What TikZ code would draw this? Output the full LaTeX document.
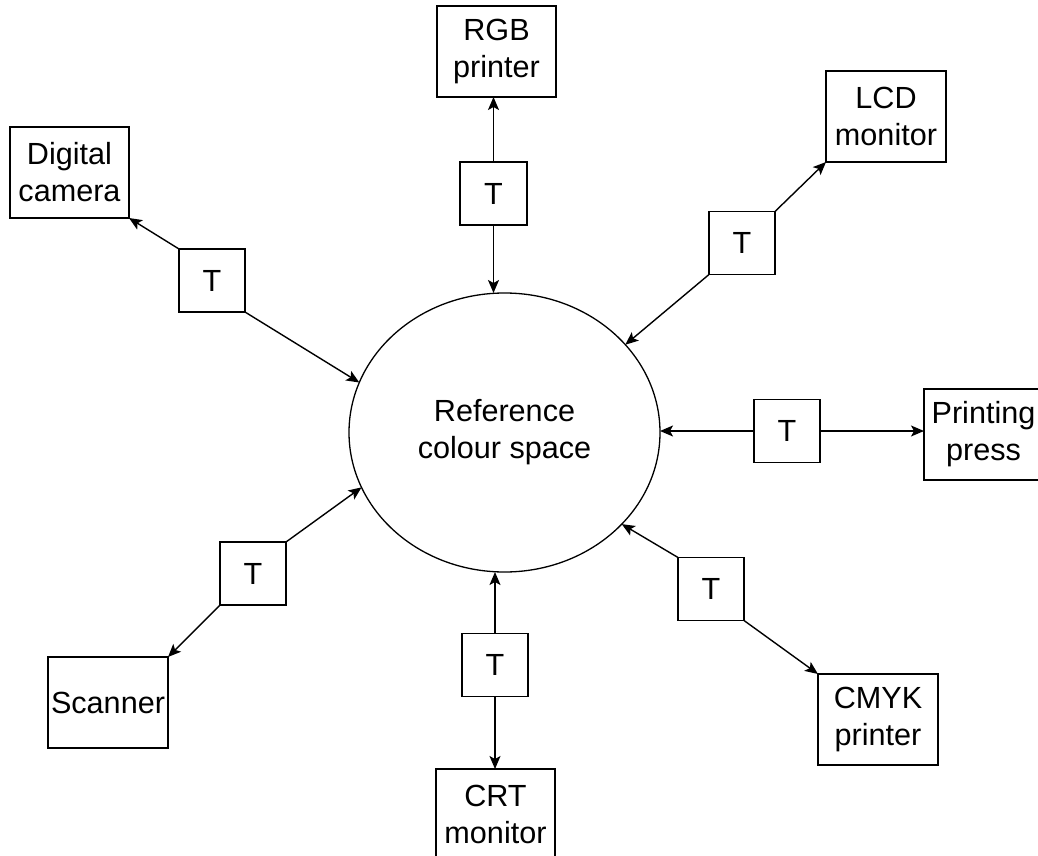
\documentclass[tikz,border=0pt]{standalone}
\usepackage{fontspec}
\setmainfont{Liberation Sans}
\usetikzlibrary{arrows.meta,shapes.geometric}
\begin{document}
\begin{tikzpicture}[x=1pt,y=-1pt,
  txt/.style={font=\fontsize{30.6}{37}\selectfont},
  dev/.style={txt, draw, line width=1.8pt, minimum width=119pt, minimum height=91pt, inner sep=0pt, outer sep=0pt, align=center},
  tbox/.style={txt, draw, line width=1.8pt, minimum width=66pt, minimum height=63pt, inner sep=0pt, outer sep=0pt},
  conn/.style={line width=1.4pt, -{Stealth[length=13pt,width=11pt,inset=3pt]}}
]
\useasboundingbox (0,0) rectangle (1038,856);
% central ellipse
\node[txt, ellipse, draw, line width=1.3pt, minimum width=311pt, minimum height=279pt, inner sep=0pt, outer sep=0pt, align=center] (ref) at (504.5,432.5) {Reference\\colour space};
% devices
\node[dev] (cam)   at (69.5,172.5)  {Digital\\camera};
\node[dev] (rgb)   at (496.5,51.5)  {RGB\\printer};
\node[dev, minimum width=120pt] (lcd) at (886,116.5) {LCD\\monitor};
\node[dev] (press) at (983.5,434.5) {Printing\\press};
\node[dev, minimum width=120pt] (cmyk) at (878,719.5) {CMYK\\printer};
\node[dev] (crt)   at (495.5,814.5) {CRT\\monitor};
\node[dev, minimum width=120pt] (scan) at (108,702.5) {Scanner};
% transform boxes
\node[tbox] (tcam)   at (212,280.5) {T};
\node[tbox, minimum width=67pt] (ttop) at (493.5,193.5) {T};
\node[tbox] (tlcd)   at (742,243)   {T};
\node[tbox] (tpress) at (787,431)   {T};
\node[tbox] (tcmyk)  at (711,589)   {T};
\node[tbox] (tcrt)   at (495,665)   {T};
\node[tbox] (tscan)  at (253,573.5) {T};
% connectors
\draw[conn] (tcam.north west) -- (cam.south east);
\draw[conn] (tcam.south east) -- (ref.161.6);
\draw[conn] (ttop.north) -- (ttop.north |- rgb.south);
\draw[conn] (ttop.south) -- (ttop.south |- ref.north);
\draw[conn] (tlcd.north east) -- (lcd.south west);
\draw[conn] (tlcd.south west) -- (ref.36.8);
\draw[conn] (tpress.west) -- (tpress.west -| ref.east);
\draw[conn] (tpress.east) -- (tpress.east -| press.west);
\draw[conn] (tcmyk.north west) -- (ref.-38.5);
\draw[conn] (tcmyk.south east) -- (cmyk.north west);
\draw[conn] (tcrt.north) -- (tcrt.north |- ref.south);
\draw[conn] (tcrt.south) -- (tcrt.south |- crt.north);
\draw[conn] (tscan.north east) -- (ref.201.4);
\draw[conn] (tscan.south west) -- (scan.north east);
\end{tikzpicture}
\end{document}
